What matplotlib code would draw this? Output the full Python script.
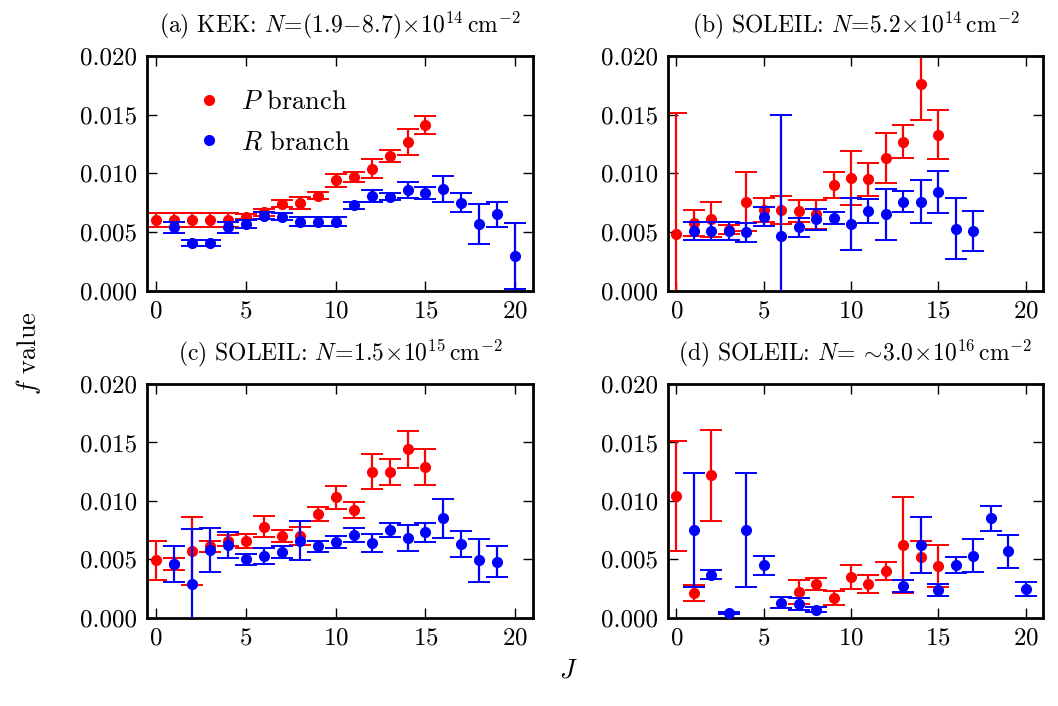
"""
f values of P and R branch lines vs J for four data sets (KEK + three SOLEIL runs).
"""
import matplotlib
matplotlib.use('Agg')
import matplotlib.pyplot as plt
import numpy as np

plt.rcParams['font.family'] = 'serif'
plt.rcParams['font.serif'] = ['cmr10']
plt.rcParams['mathtext.fontset'] = 'cm'
plt.rcParams['axes.formatter.use_mathtext'] = True
plt.rcParams['axes.unicode_minus'] = False

# (a) KEK
a_p_J = [0, 1, 2, 3, 4, 5, 6, 7, 8, 9, 10, 11, 12, 13, 14, 15]
a_p_f = [0.0060, 0.0060, 0.0060, 0.0060, 0.0060, 0.0063, 0.0067, 0.0074, 0.0075, 0.0081,
         0.0094, 0.0097, 0.0104, 0.0115, 0.0127, 0.0141]
a_p_e = [0.0006, 0.0006, 0.0006, 0.0006, 0.0006, 0.0002, 0.0003, 0.0003, 0.0005, 0.0003,
         0.00055, 0.0004, 0.0008, 0.0005, 0.0011, 0.00075]
a_r_J = [1, 2, 3, 4, 5, 6, 7, 8, 9, 10, 11, 12, 13, 14, 15, 16, 17, 18, 19, 20]
a_r_f = [0.0054, 0.0041, 0.0041, 0.0054, 0.0057, 0.0064, 0.0063, 0.0059, 0.0059, 0.0059,
         0.0073, 0.0081, 0.0080, 0.0086, 0.0083, 0.0087, 0.0075, 0.0057, 0.0065, 0.0030]
a_r_e = [0.00045, 0.00025, 0.00025, 0.00045, 0.00035, 0.0003, 0.0003, 0.0004, 0.0004, 0.0004,
         0.0003, 0.0005, 0.0003, 0.0007, 0.0005, 0.0011, 0.0008, 0.0017, 0.0011, 0.0028]

# (b) SOLEIL 5.2e14
b_p_J = [0, 1, 2, 3, 4, 5, 6, 7, 8, 9, 10, 11, 12, 13, 14, 15]
b_p_f = [0.0048, 0.0058, 0.0061, 0.0052, 0.0076, 0.0069, 0.0069, 0.0068, 0.0065, 0.0090,
         0.0096, 0.0095, 0.0113, 0.0127, 0.0176, 0.0133]
b_p_e = [0.0103, 0.0011, 0.0015, 0.0004, 0.0025, 0.0010, 0.0012, 0.00095, 0.0012, 0.0011,
         0.0023, 0.0014, 0.0021, 0.0014, 0.0031, 0.0021]
b_r_J = [1, 2, 3, 4, 5, 6, 7, 8, 9, 10, 11, 12, 13, 14, 15, 16, 17]
b_r_f = [0.0051, 0.0051, 0.0051, 0.0050, 0.0063, 0.0047, 0.0054, 0.0061, 0.0062, 0.0057,
         0.0068, 0.0065, 0.0076, 0.0076, 0.0084, 0.0053, 0.0051]
b_r_e = [0.0008, 0.0008, 0.0008, 0.0008, 0.0008, 0.0103, 0.0008, 0.0009, 0.0005, 0.0022,
         0.0010, 0.0022, 0.0009, 0.0018, 0.0018, 0.0026, 0.0017]

# (c) SOLEIL 1.5e15
c_p_J = [0, 1, 2, 3, 4, 5, 6, 7, 8, 9, 10, 11, 12, 13, 14, 15]
c_p_f = [0.0049, 0.0046, 0.0057, 0.0061, 0.0066, 0.0066, 0.0078, 0.0070, 0.0070, 0.0089,
         0.0103, 0.0092, 0.0125, 0.0125, 0.0144, 0.0129]
c_p_e = [0.0017, 0.0005, 0.0029, 0.0005, 0.0005, 0.0006, 0.0009, 0.0005, 0.0008, 0.0006,
         0.0010, 0.0007, 0.0015, 0.0011, 0.0016, 0.0015]
c_r_J = [1, 2, 3, 4, 5, 6, 7, 8, 9, 10, 11, 12, 13, 14, 15, 16, 17, 18, 19]
c_r_f = [0.0046, 0.0029, 0.0058, 0.0062, 0.0050, 0.0053, 0.0056, 0.0066, 0.0061, 0.0065,
         0.0071, 0.0064, 0.0075, 0.0068, 0.0073, 0.0085, 0.0063, 0.0049, 0.0048]
c_r_e = [0.0015, 0.0047, 0.0019, 0.0011, 0.00045, 0.0007, 0.0005, 0.0017, 0.0005, 0.0005,
         0.0006, 0.0008, 0.0006, 0.0011, 0.0008, 0.0017, 0.0011, 0.0018, 0.0013]

# (d) SOLEIL ~3.0e16
d_p_J = [0, 1, 2, 7, 8, 9, 10, 11, 12, 13, 14, 15]
d_p_f = [0.0104, 0.0021, 0.0122, 0.0022, 0.0029, 0.0017, 0.0035, 0.0029, 0.0040, 0.0062,
         0.0052, 0.0044]
d_p_e = [0.0047, 0.0007, 0.0039, 0.0010, 0.0005, 0.0006, 0.0010, 0.00075, 0.0008, 0.0041,
         0.0014, 0.0018]
d_r_J = [1, 2, 3, 4, 5, 6, 7, 8, 13, 14, 15, 16, 17, 18, 19, 20]
d_r_f = [0.0075, 0.0037, 0.0004, 0.0075, 0.0045, 0.0013, 0.0012, 0.0007, 0.0027, 0.0062,
         0.0024, 0.0045, 0.0053, 0.0085, 0.0057, 0.0025]
d_r_e = [0.0049, 0.0004, 0.0001, 0.0049, 0.0008, 0.0005, 0.0005, 0.0002, 0.0005, 0.0024,
         0.0005, 0.0007, 0.0014, 0.0011, 0.0014, 0.0006]

titles = [r'(a) KEK: $N\!=\!(1.9\!-\!8.7)\!\times\!10^{14}\,\mathrm{cm}^{-2}$',
          r'(b) SOLEIL: $N\!=\!5.2\!\times\!10^{14}\,\mathrm{cm}^{-2}$',
          r'(c) SOLEIL: $N\!=\!1.5\!\times\!10^{15}\,\mathrm{cm}^{-2}$',
          r'(d) SOLEIL: $N\!=\sim\!3.0\!\times\!10^{16}\,\mathrm{cm}^{-2}$']

panels = [
    (a_p_J, a_p_f, a_p_e, a_r_J, a_r_f, a_r_e),
    (b_p_J, b_p_f, b_p_e, b_r_J, b_r_f, b_r_e),
    (c_p_J, c_p_f, c_p_e, c_r_J, c_r_f, c_r_e),
    (d_p_J, d_p_f, d_p_e, d_r_J, d_r_f, d_r_e),
]

# axes boxes in figure fractions: left, bottom, width, height
boxes = [(0.139, 0.588, 0.365, 0.333),
         (0.631, 0.588, 0.355, 0.333),
         (0.139, 0.125, 0.365, 0.331),
         (0.631, 0.125, 0.355, 0.331)]

fig = plt.figure(figsize=(10.58, 7.06), dpi=100)

for i, (box, data, title) in enumerate(zip(boxes, panels, titles)):
    pJ, pf, pe, rJ, rf, re = data
    ax = fig.add_axes(box)
    ax.errorbar(pJ, pf, yerr=pe, fmt='o', color='red', ms=7, elinewidth=1.6,
                capsize=8, capthick=1.4, label=r'$P$ branch', zorder=2)
    ax.errorbar(rJ, rf, yerr=re, fmt='o', color='blue', ms=7, elinewidth=1.6,
                capsize=8, capthick=1.4, label=r'$R$ branch', zorder=3)
    ax.set_xlim(-0.5, 21)
    ax.set_ylim(0, 0.020)
    ax.set_xticks([0, 5, 10, 15, 20])
    ax.set_yticks([0.000, 0.005, 0.010, 0.015, 0.020])
    ax.yaxis.set_major_formatter(plt.FormatStrFormatter('%.3f'))
    ax.tick_params(direction='in', top=True, right=True, length=7, width=1,
                   labelsize=18, pad=7)
    for s in ax.spines.values():
        s.set_linewidth(2)
    ax.set_title(title, fontsize=17, pad=17)
    if i == 0:
        handles, labels = ax.get_legend_handles_labels()
        handles = [h[0] for h in handles]
        ax.legend(handles, labels, loc='upper left', frameon=False, fontsize=19,
                  numpoints=1, handlelength=1.0, handletextpad=0.7, labelspacing=0.65,
                  bbox_to_anchor=(0.065, 0.955))

fig.text(0.027, 0.5, r'$f$ value', rotation=90, ha='center', va='center', fontsize=19)
fig.text(0.537, 0.05, r'$J$', ha='center', va='center', fontsize=19)

plt.savefig('out.png', dpi=100, facecolor='white')
